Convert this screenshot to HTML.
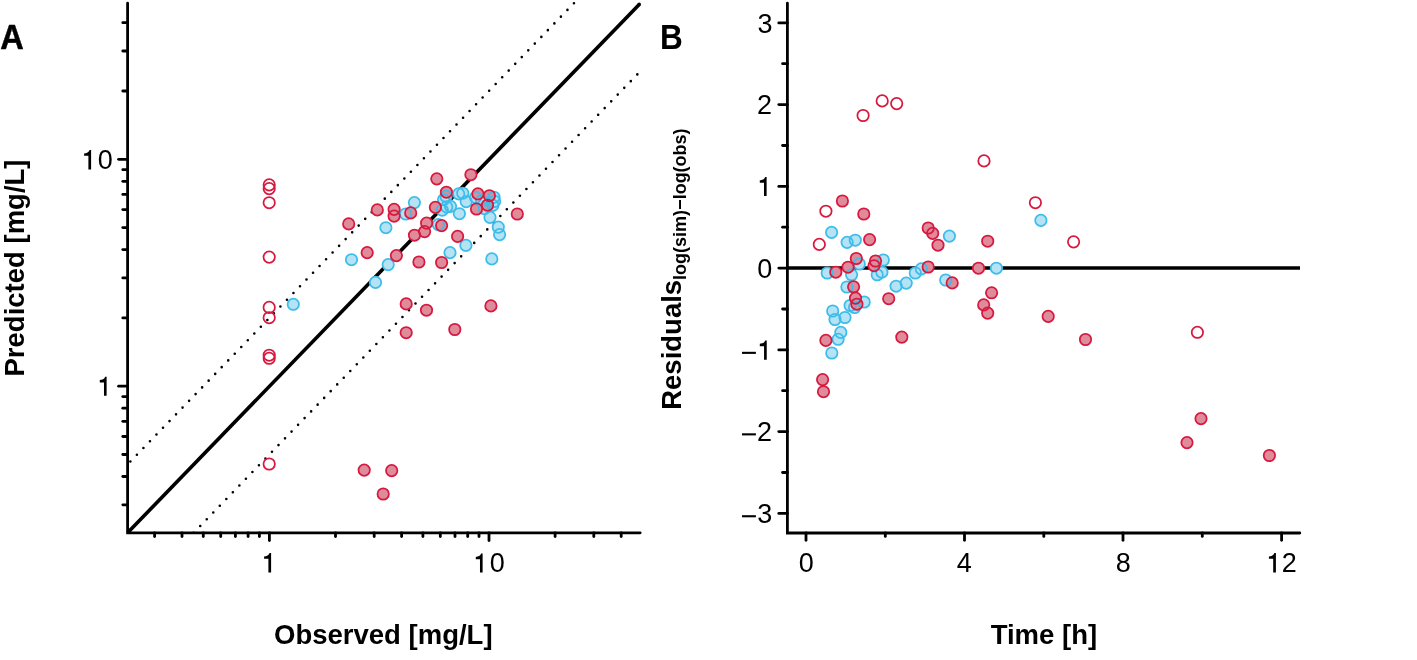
<!DOCTYPE html><html><head><meta charset="utf-8"><style>html,body{margin:0;padding:0;background:#fff;}#c{width:1417px;height:660px;will-change:transform;}svg{display:block;}text{font-family:"Liberation Sans",sans-serif;}</style></head><body><div id="c">
<svg width="1417" height="660" viewBox="0 0 1417 660">
<rect width="1417" height="660" fill="#fff"/>
<g stroke="#000" stroke-width="2.8" stroke-linecap="round" stroke-linejoin="miter" fill="none">
<path d="M127.6 3.2V532.8H640.2"/>
<path d="M122.8 504.8H127.6"/>
<path d="M122.8 476.5H127.6"/>
<path d="M122.8 454.5H127.6"/>
<path d="M122.8 436.5H127.6"/>
<path d="M122.8 421.3H127.6"/>
<path d="M122.8 408.2H127.6"/>
<path d="M122.8 396.6H127.6"/>
<path d="M122.8 317.9H127.6"/>
<path d="M122.8 277.9H127.6"/>
<path d="M122.8 249.6H127.6"/>
<path d="M122.8 227.6H127.6"/>
<path d="M122.8 209.6H127.6"/>
<path d="M122.8 194.4H127.6"/>
<path d="M122.8 181.3H127.6"/>
<path d="M122.8 169.7H127.6"/>
<path d="M122.8 91H127.6"/>
<path d="M122.8 51H127.6"/>
<path d="M122.8 22.7H127.6"/>
<path d="M118.6 386.2H127.6"/>
<path d="M118.6 159.3H127.6"/>
<path d="M154.6 532.8V536.6"/>
<path d="M182 532.8V536.6"/>
<path d="M203.3 532.8V536.6"/>
<path d="M220.7 532.8V536.6"/>
<path d="M235.4 532.8V536.6"/>
<path d="M248.1 532.8V536.6"/>
<path d="M259.4 532.8V536.6"/>
<path d="M335.5 532.8V536.6"/>
<path d="M374.2 532.8V536.6"/>
<path d="M401.6 532.8V536.6"/>
<path d="M422.9 532.8V536.6"/>
<path d="M440.3 532.8V536.6"/>
<path d="M455 532.8V536.6"/>
<path d="M467.7 532.8V536.6"/>
<path d="M479 532.8V536.6"/>
<path d="M555.1 532.8V536.6"/>
<path d="M593.8 532.8V536.6"/>
<path d="M621.2 532.8V536.6"/>
<path d="M269.4 532.8V540.5"/>
<path d="M489 532.8V540.5"/>
</g>
<path d="M127.6 532.8L639.2 4.4" stroke="#000" stroke-width="3.6" fill="none"/>
<circle cx="639.2" cy="4.4" r="1.8" fill="#000"/>
<path d="M127.6 464.4L574.9 2.2" stroke="#000" stroke-width="2.6" stroke-linecap="round" stroke-dasharray="0 9.38" stroke-dashoffset="-4.0" fill="none"/>
<path d="M193.7 532.7L640.5 71.1" stroke="#000" stroke-width="2.6" stroke-linecap="round" stroke-dasharray="0 9.38" stroke-dashoffset="0" fill="none"/>
<g stroke="#000" stroke-width="2.8" stroke-linecap="round" stroke-linejoin="miter" fill="none">
<path d="M787.4 3.2V533.0H1299.8"/>
<path d="M778.8 22.9H787.4"/>
<path d="M778.8 104.6H787.4"/>
<path d="M778.8 186.4H787.4"/>
<path d="M778.8 268.1H787.4"/>
<path d="M778.8 349.9H787.4"/>
<path d="M778.8 431.6H787.4"/>
<path d="M778.8 513.4H787.4"/>
<path d="M782.6 63.7H787.4"/>
<path d="M782.6 145.5H787.4"/>
<path d="M782.6 227.2H787.4"/>
<path d="M782.6 309H787.4"/>
<path d="M782.6 390.7H787.4"/>
<path d="M782.6 472.5H787.4"/>
<path d="M806 533V540.3"/>
<path d="M964.5 533V540.3"/>
<path d="M1123 533V540.3"/>
<path d="M1281.6 533V540.3"/>
<path d="M885.3 533V536.4"/>
<path d="M1043.8 533V536.4"/>
<path d="M1202.3 533V536.4"/>
</g>
<g font-size="27" fill="#000"><path transform="translate(84.1 150) scale(1.000)" d="M5.5 0H7.0V19.5H4.3V5.8H0V3.4C2.6 3.4 4.7 2.3 5.5 0Z"/><text x="112.8" y="169.2" text-anchor="end">0</text><path transform="translate(99.8 376.8) scale(0.974)" d="M5.5 0H7.0V19.5H4.3V5.8H0V3.4C2.6 3.4 4.7 2.3 5.5 0Z"/><path transform="translate(264.1 553) scale(1.000)" d="M5.5 0H7.0V19.5H4.3V5.8H0V3.4C2.6 3.4 4.7 2.3 5.5 0Z"/><path transform="translate(475.8 553.6) scale(0.974)" d="M5.5 0H7.0V19.5H4.3V5.8H0V3.4C2.6 3.4 4.7 2.3 5.5 0Z"/><text x="504.9" y="572.4" text-anchor="end">0</text><text x="772.5" y="32.5" text-anchor="end">3</text><text x="772.1" y="114.3" text-anchor="end">2</text><path transform="translate(759.8 177) scale(0.974)" d="M5.5 0H7.0V19.5H4.3V5.8H0V3.4C2.6 3.4 4.7 2.3 5.5 0Z"/><text x="772.4" y="278" text-anchor="end">0</text><rect x="742" y="351.8" width="13.9" height="2.1"/><path transform="translate(759.8 340.4) scale(0.990)" d="M5.5 0H7.0V19.5H4.3V5.8H0V3.4C2.6 3.4 4.7 2.3 5.5 0Z"/><rect x="742" y="433.3" width="13.9" height="2.1"/><text x="772.1" y="441" text-anchor="end">2</text><rect x="742" y="515.2" width="13.9" height="2.1"/><text x="772.4" y="523.2" text-anchor="end">3</text><text x="813.9" y="572.4" text-anchor="end">0</text><text x="971.9" y="572.4" text-anchor="end">4</text><text x="1130.7" y="572.4" text-anchor="end">8</text><path transform="translate(1268.9 553) scale(1.000)" d="M5.5 0H7.0V19.5H4.3V5.8H0V3.4C2.6 3.4 4.7 2.3 5.5 0Z"/><text x="1296.7" y="572.4" text-anchor="end">2</text></g>
<g font-size="35" font-weight="bold" fill="#000">
<text x="0.2" y="49.4" textLength="23.5" lengthAdjust="spacingAndGlyphs" stroke="#000" stroke-width="0.5">A</text>
<text x="660.0" y="49.1" textLength="22.8" lengthAdjust="spacingAndGlyphs">B</text>
</g>
<g font-size="27.5" font-weight="bold" fill="#000">
<text x="383.3" y="644.2" text-anchor="middle">Observed [mg/L]</text>
<text x="1043.9" y="644.3" text-anchor="middle">Time [h]</text>
<text transform="translate(24.2 268.0) rotate(-90)" text-anchor="middle">Predicted [mg/L]</text>
<text transform="translate(681.4 409.8) rotate(-90)">Residuals<tspan font-size="18" dy="4.5">log(sim)−log(obs)</tspan></text>
</g>
<path d="M787.4 268.1H1300" stroke="#000" stroke-width="3.5"/>
<g fill="#b5e2f5"><circle cx="293.3" cy="304.3" r="5.7"/><circle cx="405.7" cy="214" r="5.7"/><circle cx="414.4" cy="202.6" r="5.7"/><circle cx="385.9" cy="227.7" r="5.7"/><circle cx="351.5" cy="259.7" r="5.7"/><circle cx="388.2" cy="264.6" r="5.7"/><circle cx="375.5" cy="282.4" r="5.7"/><circle cx="462.8" cy="193.2" r="5.7"/><circle cx="458.7" cy="193.8" r="5.7"/><circle cx="466.2" cy="201.7" r="5.7"/><circle cx="446" cy="196.4" r="5.7"/><circle cx="443.6" cy="199.7" r="5.7"/><circle cx="450.5" cy="206.4" r="5.7"/><circle cx="446.7" cy="206.9" r="5.7"/><circle cx="442.2" cy="210.2" r="5.7"/><circle cx="459.4" cy="213.7" r="5.7"/><circle cx="438.3" cy="224.6" r="5.7"/><circle cx="465.9" cy="245.4" r="5.7"/><circle cx="450" cy="252.6" r="5.7"/><circle cx="494" cy="197.2" r="5.7"/><circle cx="494.6" cy="201.4" r="5.7"/><circle cx="492.8" cy="205.4" r="5.7"/><circle cx="484.4" cy="208.7" r="5.7"/><circle cx="481.5" cy="200.9" r="5.7"/><circle cx="490" cy="217.4" r="5.7"/><circle cx="498.3" cy="227.1" r="5.7"/><circle cx="499.6" cy="234.6" r="5.7"/><circle cx="491.8" cy="258.9" r="5.7"/><circle cx="475.5" cy="197.4" r="5.7"/><circle cx="831.6" cy="232.4" r="5.7"/><circle cx="847.1" cy="242.3" r="5.7"/><circle cx="855.3" cy="240.2" r="5.7"/><circle cx="859.3" cy="264" r="5.7"/><circle cx="827.2" cy="273" r="5.7"/><circle cx="851.6" cy="274.8" r="5.7"/><circle cx="883.3" cy="260" r="5.7"/><circle cx="881.9" cy="272.2" r="5.7"/><circle cx="877.2" cy="274.8" r="5.7"/><circle cx="896.1" cy="286.2" r="5.7"/><circle cx="906.2" cy="283.1" r="5.7"/><circle cx="915.3" cy="273" r="5.7"/><circle cx="921.4" cy="268.9" r="5.7"/><circle cx="945.7" cy="280" r="5.7"/><circle cx="996.4" cy="268.2" r="5.7"/><circle cx="846.9" cy="287" r="5.7"/><circle cx="864.2" cy="302" r="5.7"/><circle cx="850.1" cy="305.5" r="5.7"/><circle cx="854.6" cy="307.5" r="5.7"/><circle cx="832.7" cy="311" r="5.7"/><circle cx="835" cy="319.5" r="5.7"/><circle cx="845" cy="317.5" r="5.7"/><circle cx="840.8" cy="332.4" r="5.7"/><circle cx="838.1" cy="339.3" r="5.7"/><circle cx="831.8" cy="353" r="5.7"/><circle cx="949.4" cy="236.1" r="5.7"/><circle cx="1040.9" cy="220.4" r="5.7"/></g>
<g fill="#de8b9b"><circle cx="348.7" cy="223.9" r="5.7"/><circle cx="377.3" cy="209.9" r="5.7"/><circle cx="394.1" cy="209.3" r="5.7"/><circle cx="394.1" cy="216.1" r="5.7"/><circle cx="410.7" cy="212.9" r="5.7"/><circle cx="414.5" cy="235.2" r="5.7"/><circle cx="367.2" cy="252.6" r="5.7"/><circle cx="396.4" cy="255.6" r="5.7"/><circle cx="418.9" cy="262" r="5.7"/><circle cx="436.8" cy="178.8" r="5.7"/><circle cx="470.9" cy="174.7" r="5.7"/><circle cx="446.4" cy="192.2" r="5.7"/><circle cx="435.4" cy="207.4" r="5.7"/><circle cx="477.9" cy="193.9" r="5.7"/><circle cx="476.5" cy="209" r="5.7"/><circle cx="489.4" cy="195.7" r="5.7"/><circle cx="487.5" cy="205.2" r="5.7"/><circle cx="426.6" cy="223.1" r="5.7"/><circle cx="424.6" cy="231.6" r="5.7"/><circle cx="441.6" cy="225.6" r="5.7"/><circle cx="457.6" cy="236.4" r="5.7"/><circle cx="441.6" cy="262.5" r="5.7"/><circle cx="517.3" cy="214" r="5.7"/><circle cx="364.2" cy="470.1" r="5.7"/><circle cx="391.7" cy="470.6" r="5.7"/><circle cx="383.2" cy="494" r="5.7"/><circle cx="406.2" cy="303.9" r="5.7"/><circle cx="426.5" cy="310.2" r="5.7"/><circle cx="406.2" cy="332.7" r="5.7"/><circle cx="454.8" cy="329.5" r="5.7"/><circle cx="490.9" cy="305.9" r="5.7"/><circle cx="842.4" cy="201" r="5.7"/><circle cx="863.8" cy="214" r="5.7"/><circle cx="869.6" cy="239.6" r="5.7"/><circle cx="856.3" cy="258.5" r="5.7"/><circle cx="875.5" cy="261" r="5.7"/><circle cx="874" cy="265.7" r="5.7"/><circle cx="835.8" cy="272.2" r="5.7"/><circle cx="848" cy="267.2" r="5.7"/><circle cx="853.6" cy="286.8" r="5.7"/><circle cx="855.5" cy="298.1" r="5.7"/><circle cx="856.9" cy="304.2" r="5.7"/><circle cx="825.9" cy="340.4" r="5.7"/><circle cx="822.6" cy="379.6" r="5.7"/><circle cx="823.5" cy="391.7" r="5.7"/><circle cx="928.2" cy="228" r="5.7"/><circle cx="932.7" cy="233.3" r="5.7"/><circle cx="938" cy="245.2" r="5.7"/><circle cx="987.7" cy="241.2" r="5.7"/><circle cx="928.2" cy="267" r="5.7"/><circle cx="952.2" cy="282.9" r="5.7"/><circle cx="978.5" cy="268.2" r="5.7"/><circle cx="991.6" cy="292.8" r="5.7"/><circle cx="888.7" cy="298.7" r="5.7"/><circle cx="901.8" cy="337.1" r="5.7"/><circle cx="983.7" cy="304.9" r="5.7"/><circle cx="987.7" cy="313.1" r="5.7"/><circle cx="1048.2" cy="316.4" r="5.7"/><circle cx="1085.5" cy="339.5" r="5.7"/><circle cx="1201" cy="418.6" r="5.7"/><circle cx="1187" cy="442.6" r="5.7"/><circle cx="1269.4" cy="455.5" r="5.7"/></g>
<g fill="none" stroke="#3dbde9" stroke-width="1.75"><circle cx="293.3" cy="304.3" r="5.7"/><circle cx="405.7" cy="214" r="5.7"/><circle cx="414.4" cy="202.6" r="5.7"/><circle cx="385.9" cy="227.7" r="5.7"/><circle cx="351.5" cy="259.7" r="5.7"/><circle cx="388.2" cy="264.6" r="5.7"/><circle cx="375.5" cy="282.4" r="5.7"/><circle cx="462.8" cy="193.2" r="5.7"/><circle cx="458.7" cy="193.8" r="5.7"/><circle cx="466.2" cy="201.7" r="5.7"/><circle cx="446" cy="196.4" r="5.7"/><circle cx="443.6" cy="199.7" r="5.7"/><circle cx="450.5" cy="206.4" r="5.7"/><circle cx="446.7" cy="206.9" r="5.7"/><circle cx="442.2" cy="210.2" r="5.7"/><circle cx="459.4" cy="213.7" r="5.7"/><circle cx="438.3" cy="224.6" r="5.7"/><circle cx="465.9" cy="245.4" r="5.7"/><circle cx="450" cy="252.6" r="5.7"/><circle cx="494" cy="197.2" r="5.7"/><circle cx="494.6" cy="201.4" r="5.7"/><circle cx="492.8" cy="205.4" r="5.7"/><circle cx="484.4" cy="208.7" r="5.7"/><circle cx="481.5" cy="200.9" r="5.7"/><circle cx="490" cy="217.4" r="5.7"/><circle cx="498.3" cy="227.1" r="5.7"/><circle cx="499.6" cy="234.6" r="5.7"/><circle cx="491.8" cy="258.9" r="5.7"/><circle cx="475.5" cy="197.4" r="5.7"/><circle cx="831.6" cy="232.4" r="5.7"/><circle cx="847.1" cy="242.3" r="5.7"/><circle cx="855.3" cy="240.2" r="5.7"/><circle cx="859.3" cy="264" r="5.7"/><circle cx="827.2" cy="273" r="5.7"/><circle cx="851.6" cy="274.8" r="5.7"/><circle cx="883.3" cy="260" r="5.7"/><circle cx="881.9" cy="272.2" r="5.7"/><circle cx="877.2" cy="274.8" r="5.7"/><circle cx="896.1" cy="286.2" r="5.7"/><circle cx="906.2" cy="283.1" r="5.7"/><circle cx="915.3" cy="273" r="5.7"/><circle cx="921.4" cy="268.9" r="5.7"/><circle cx="945.7" cy="280" r="5.7"/><circle cx="996.4" cy="268.2" r="5.7"/><circle cx="846.9" cy="287" r="5.7"/><circle cx="864.2" cy="302" r="5.7"/><circle cx="850.1" cy="305.5" r="5.7"/><circle cx="854.6" cy="307.5" r="5.7"/><circle cx="832.7" cy="311" r="5.7"/><circle cx="835" cy="319.5" r="5.7"/><circle cx="845" cy="317.5" r="5.7"/><circle cx="840.8" cy="332.4" r="5.7"/><circle cx="838.1" cy="339.3" r="5.7"/><circle cx="831.8" cy="353" r="5.7"/><circle cx="949.4" cy="236.1" r="5.7"/><circle cx="1040.9" cy="220.4" r="5.7"/></g>
<g fill="none" stroke="#d8193f" stroke-width="1.75"><circle cx="348.7" cy="223.9" r="5.7"/><circle cx="377.3" cy="209.9" r="5.7"/><circle cx="394.1" cy="209.3" r="5.7"/><circle cx="394.1" cy="216.1" r="5.7"/><circle cx="410.7" cy="212.9" r="5.7"/><circle cx="414.5" cy="235.2" r="5.7"/><circle cx="367.2" cy="252.6" r="5.7"/><circle cx="396.4" cy="255.6" r="5.7"/><circle cx="418.9" cy="262" r="5.7"/><circle cx="436.8" cy="178.8" r="5.7"/><circle cx="470.9" cy="174.7" r="5.7"/><circle cx="446.4" cy="192.2" r="5.7"/><circle cx="435.4" cy="207.4" r="5.7"/><circle cx="477.9" cy="193.9" r="5.7"/><circle cx="476.5" cy="209" r="5.7"/><circle cx="489.4" cy="195.7" r="5.7"/><circle cx="487.5" cy="205.2" r="5.7"/><circle cx="426.6" cy="223.1" r="5.7"/><circle cx="424.6" cy="231.6" r="5.7"/><circle cx="441.6" cy="225.6" r="5.7"/><circle cx="457.6" cy="236.4" r="5.7"/><circle cx="441.6" cy="262.5" r="5.7"/><circle cx="517.3" cy="214" r="5.7"/><circle cx="364.2" cy="470.1" r="5.7"/><circle cx="391.7" cy="470.6" r="5.7"/><circle cx="383.2" cy="494" r="5.7"/><circle cx="406.2" cy="303.9" r="5.7"/><circle cx="426.5" cy="310.2" r="5.7"/><circle cx="406.2" cy="332.7" r="5.7"/><circle cx="454.8" cy="329.5" r="5.7"/><circle cx="490.9" cy="305.9" r="5.7"/><circle cx="842.4" cy="201" r="5.7"/><circle cx="863.8" cy="214" r="5.7"/><circle cx="869.6" cy="239.6" r="5.7"/><circle cx="856.3" cy="258.5" r="5.7"/><circle cx="875.5" cy="261" r="5.7"/><circle cx="874" cy="265.7" r="5.7"/><circle cx="835.8" cy="272.2" r="5.7"/><circle cx="848" cy="267.2" r="5.7"/><circle cx="853.6" cy="286.8" r="5.7"/><circle cx="855.5" cy="298.1" r="5.7"/><circle cx="856.9" cy="304.2" r="5.7"/><circle cx="825.9" cy="340.4" r="5.7"/><circle cx="822.6" cy="379.6" r="5.7"/><circle cx="823.5" cy="391.7" r="5.7"/><circle cx="928.2" cy="228" r="5.7"/><circle cx="932.7" cy="233.3" r="5.7"/><circle cx="938" cy="245.2" r="5.7"/><circle cx="987.7" cy="241.2" r="5.7"/><circle cx="928.2" cy="267" r="5.7"/><circle cx="952.2" cy="282.9" r="5.7"/><circle cx="978.5" cy="268.2" r="5.7"/><circle cx="991.6" cy="292.8" r="5.7"/><circle cx="888.7" cy="298.7" r="5.7"/><circle cx="901.8" cy="337.1" r="5.7"/><circle cx="983.7" cy="304.9" r="5.7"/><circle cx="987.7" cy="313.1" r="5.7"/><circle cx="1048.2" cy="316.4" r="5.7"/><circle cx="1085.5" cy="339.5" r="5.7"/><circle cx="1201" cy="418.6" r="5.7"/><circle cx="1187" cy="442.6" r="5.7"/><circle cx="1269.4" cy="455.5" r="5.7"/></g>
<g fill="none" stroke="#d8193f" stroke-width="1.75"><circle cx="269.2" cy="184.8" r="5.7"/><circle cx="269.2" cy="188.6" r="5.7"/><circle cx="269.2" cy="202.7" r="5.7"/><circle cx="269.2" cy="257.1" r="5.7"/><circle cx="269.2" cy="307.4" r="5.7"/><circle cx="269.2" cy="317.7" r="5.7"/><circle cx="269.2" cy="355.2" r="5.7"/><circle cx="269.2" cy="358.3" r="5.7"/><circle cx="269.2" cy="464" r="5.7"/><circle cx="863.1" cy="115.5" r="5.7"/><circle cx="882.2" cy="100.9" r="5.7"/><circle cx="896.7" cy="103.6" r="5.7"/><circle cx="984" cy="160.9" r="5.7"/><circle cx="825.9" cy="211.2" r="5.7"/><circle cx="819.3" cy="244.4" r="5.7"/><circle cx="1035.4" cy="202.7" r="5.7"/><circle cx="1073.6" cy="241.8" r="5.7"/><circle cx="1197.4" cy="332.3" r="5.7"/></g>
</svg></div></body></html>
